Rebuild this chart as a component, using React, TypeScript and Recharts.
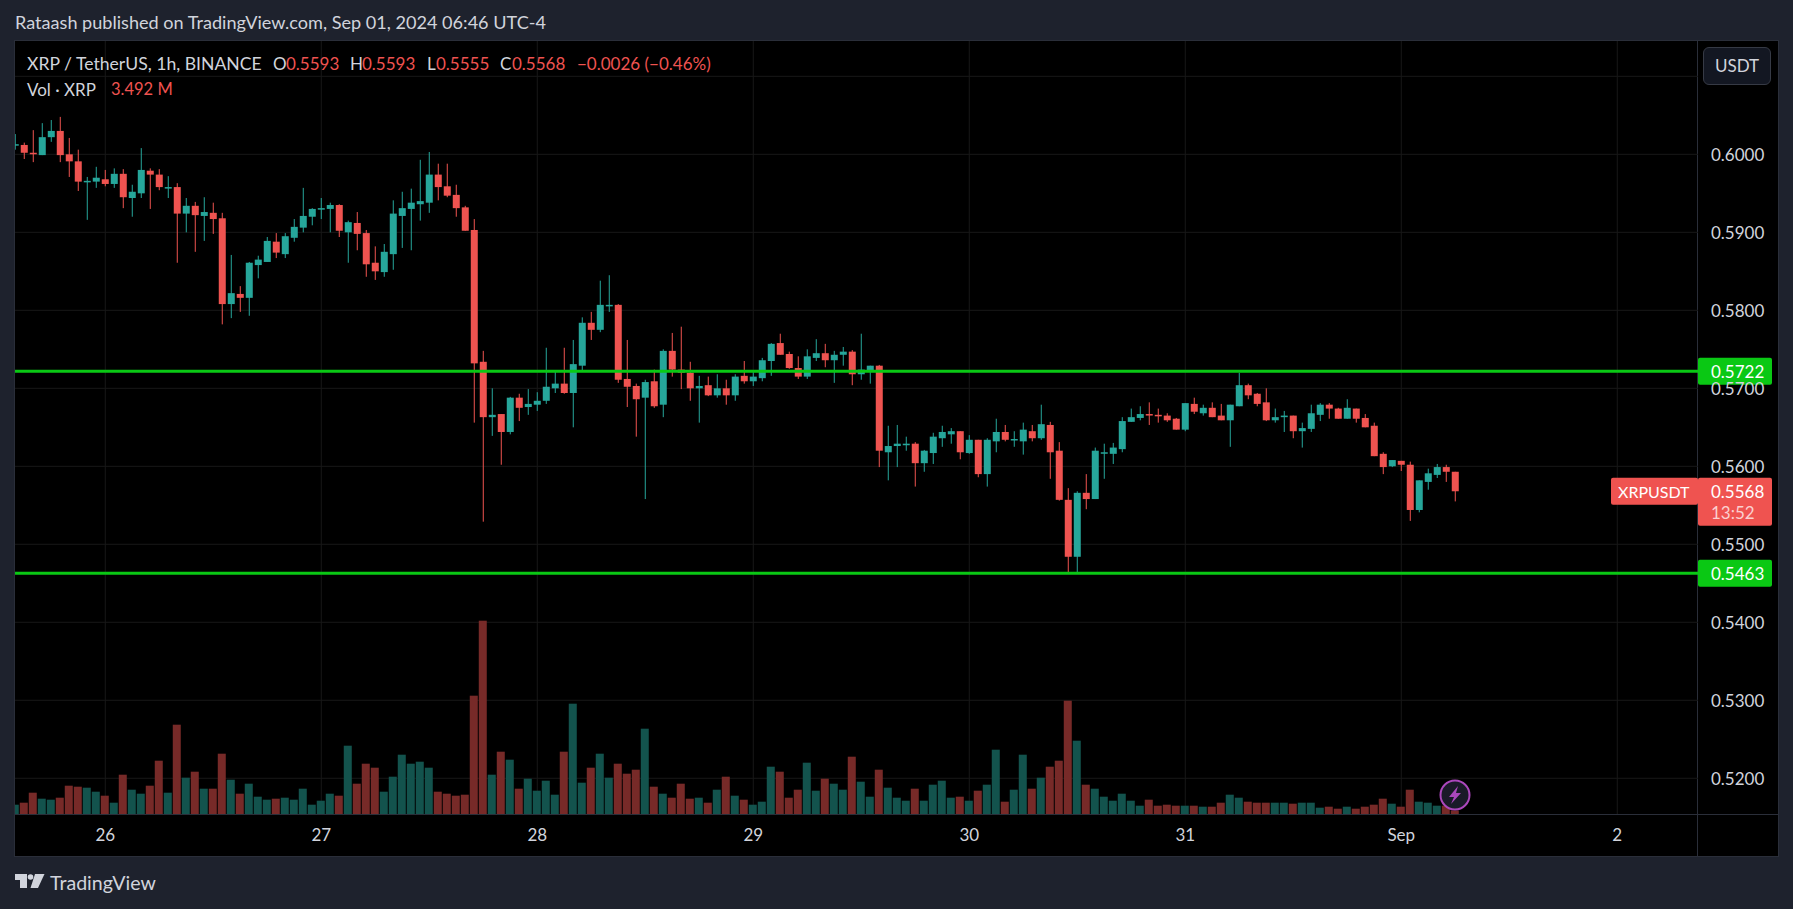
import { Bar, CartesianGrid, ComposedChart, ReferenceLine, XAxis, YAxis } from 'recharts';

const opens = [
  0.6012, 0.6012, 0.6002, 0.5999, 0.6022, 0.603, 0.6, 0.5991, 0.5965, 0.5965,
  0.5968, 0.5962, 0.5975, 0.5944, 0.595, 0.5979, 0.5974, 0.5957, 0.5958, 0.5924,
  0.5934, 0.5921, 0.5925, 0.5918, 0.5808, 0.5821, 0.5816, 0.5858, 0.5862, 0.5888,
  0.5872, 0.5893, 0.5906, 0.592, 0.593, 0.593, 0.5935, 0.59, 0.5912, 0.5899,
  0.5861, 0.5849, 0.5872, 0.5921, 0.593, 0.5936, 0.5938, 0.5974, 0.5959, 0.5948,
  0.5932, 0.5903, 0.5734, 0.5663, 0.5667, 0.5644, 0.5688, 0.5676, 0.5679, 0.5684,
  0.57, 0.5706, 0.5694, 0.5729, 0.5784, 0.5775, 0.5806, 0.5807, 0.5712, 0.5703,
  0.5688, 0.5709, 0.5679, 0.5748, 0.5724, 0.572, 0.57, 0.5704, 0.5691, 0.57,
  0.5691, 0.5716, 0.5709, 0.5713, 0.5735, 0.5758, 0.5744, 0.5726, 0.5715, 0.5739,
  0.5745, 0.5736, 0.5743, 0.5747, 0.5718, 0.5722, 0.5729, 0.5618, 0.5626, 0.5627,
  0.5629, 0.5604, 0.5617, 0.5636, 0.5641, 0.5645, 0.5617, 0.5634, 0.559, 0.5632,
  0.5644, 0.5634, 0.5632, 0.5645, 0.5636, 0.5653, 0.562, 0.5557, 0.5484, 0.5566,
  0.5558, 0.5617, 0.5616, 0.5622, 0.5657, 0.5662, 0.5667, 0.5666, 0.5665, 0.5661,
  0.5647, 0.568, 0.5668, 0.5675, 0.5665, 0.5659, 0.5677, 0.5704, 0.5693, 0.5682,
  0.5659, 0.5663, 0.5665, 0.5645, 0.5648, 0.5666, 0.5679, 0.5674, 0.5661, 0.5674,
  0.5662, 0.5652, 0.5616, 0.56, 0.5607, 0.5602, 0.5544, 0.558, 0.5589, 0.5599,
  0.5593,
];
const closes = [
  0.6013, 0.6002, 0.6001, 0.6022, 0.603, 0.5999, 0.5991, 0.5965, 0.5966, 0.597,
  0.5962, 0.5975, 0.5945, 0.5952, 0.598, 0.5974, 0.5958, 0.5958, 0.5924, 0.5934,
  0.5922, 0.5926, 0.5917, 0.5808, 0.5822, 0.5816, 0.5861, 0.5865, 0.5889, 0.5874,
  0.5895, 0.5907, 0.5921, 0.593, 0.5931, 0.5935, 0.5902, 0.5913, 0.5898, 0.5859,
  0.585, 0.5875, 0.5924, 0.5931, 0.5938, 0.594, 0.5974, 0.5958, 0.5947, 0.5931,
  0.5902, 0.5732, 0.5663, 0.5666, 0.5644, 0.5688, 0.5675, 0.568, 0.5684, 0.5702,
  0.5706, 0.5694, 0.5731, 0.5784, 0.5775, 0.5807, 0.5807, 0.5711, 0.5702, 0.5686,
  0.5708, 0.5677, 0.5748, 0.5724, 0.572, 0.57, 0.5703, 0.5691, 0.57, 0.5691,
  0.5715, 0.5709, 0.5715, 0.5736, 0.5757, 0.5743, 0.5726, 0.5715, 0.5741, 0.5745,
  0.5736, 0.5743, 0.5747, 0.5718, 0.5724, 0.5729, 0.562, 0.5626, 0.5629, 0.5629,
  0.5604, 0.562, 0.5638, 0.5644, 0.5645, 0.5618, 0.5634, 0.559, 0.5634, 0.5644,
  0.5634, 0.5635, 0.5647, 0.5636, 0.5654, 0.5618, 0.5557, 0.5484, 0.5566, 0.5558,
  0.562, 0.5618, 0.5624, 0.5658, 0.5663, 0.5667, 0.5666, 0.5665, 0.5659, 0.5647,
  0.5681, 0.567, 0.5675, 0.5663, 0.5659, 0.5679, 0.5704, 0.5691, 0.568, 0.5659,
  0.5663, 0.5665, 0.5645, 0.5649, 0.5668, 0.5679, 0.5674, 0.5661, 0.5675, 0.5661,
  0.565, 0.5613, 0.5599, 0.5608, 0.5602, 0.5544, 0.5582, 0.5591, 0.5599, 0.5593,
  0.5568,
];
const highs = [
  0.6026, 0.6015, 0.6031, 0.604, 0.6044, 0.6048, 0.6021, 0.6006, 0.5971, 0.5984,
  0.598, 0.5982, 0.5981, 0.5961, 0.6008, 0.5982, 0.5981, 0.5972, 0.5963, 0.5944,
  0.5939, 0.5945, 0.5938, 0.5925, 0.5871, 0.5831, 0.5862, 0.587, 0.5894, 0.5899,
  0.5899, 0.5917, 0.5957, 0.5931, 0.5944, 0.5938, 0.5936, 0.5915, 0.5926, 0.5903,
  0.5882, 0.5885, 0.5941, 0.5952, 0.5956, 0.5993, 0.6003, 0.5988, 0.5988, 0.5961,
  0.5934, 0.5917, 0.5748, 0.57, 0.5667, 0.5689, 0.5693, 0.5699, 0.5695, 0.5752,
  0.5721, 0.5752, 0.5762, 0.5791, 0.5798, 0.5838, 0.5845, 0.5808, 0.5762, 0.5706,
  0.5711, 0.5724, 0.575, 0.5771, 0.5779, 0.5734, 0.5716, 0.5715, 0.5718, 0.5711,
  0.5718, 0.5735, 0.5721, 0.5739, 0.5758, 0.577, 0.5747, 0.5741, 0.575, 0.5763,
  0.5757, 0.5748, 0.5753, 0.5749, 0.577, 0.5729, 0.573, 0.5652, 0.5653, 0.5638,
  0.5631, 0.5621, 0.5643, 0.5652, 0.5649, 0.5645, 0.564, 0.5634, 0.5636, 0.5661,
  0.5653, 0.5645, 0.5656, 0.5653, 0.5679, 0.5657, 0.5631, 0.5572, 0.5568, 0.559,
  0.5624, 0.5629, 0.563, 0.5663, 0.5674, 0.5677, 0.5682, 0.5674, 0.5668, 0.5662,
  0.5681, 0.5688, 0.5679, 0.5682, 0.568, 0.5679, 0.572, 0.5706, 0.5694, 0.57,
  0.5674, 0.5671, 0.5665, 0.5656, 0.5679, 0.5681, 0.5681, 0.5675, 0.5686, 0.5674,
  0.5667, 0.5656, 0.5618, 0.5608, 0.5607, 0.5606, 0.5582, 0.5597, 0.5603, 0.5602,
  0.5593,
];
const lows = [
  0.6006, 0.5994, 0.599, 0.5999, 0.6016, 0.599, 0.5971, 0.5953, 0.5916, 0.5957,
  0.5959, 0.5957, 0.5931, 0.592, 0.5944, 0.593, 0.5954, 0.5944, 0.5861, 0.59,
  0.5875, 0.5889, 0.5898, 0.5782, 0.579, 0.5798, 0.5793, 0.5841, 0.5862, 0.5867,
  0.5867, 0.5888, 0.59, 0.5909, 0.5917, 0.59, 0.5894, 0.5861, 0.5877, 0.5843,
  0.5839, 0.5843, 0.5852, 0.588, 0.5877, 0.5915, 0.5925, 0.5941, 0.5945, 0.592,
  0.5902, 0.5656, 0.5529, 0.5639, 0.5602, 0.5641, 0.5658, 0.5666, 0.5671, 0.568,
  0.5694, 0.5693, 0.565, 0.5723, 0.5762, 0.5772, 0.5798, 0.5707, 0.5676, 0.5638,
  0.5558, 0.5675, 0.5663, 0.5715, 0.5699, 0.5684, 0.5656, 0.569, 0.5688, 0.5679,
  0.5684, 0.5706, 0.5703, 0.5709, 0.5716, 0.5743, 0.5725, 0.5712, 0.5712, 0.5735,
  0.5727, 0.5707, 0.5729, 0.5704, 0.5711, 0.5706, 0.5599, 0.5582, 0.5599, 0.562,
  0.5574, 0.5593, 0.5603, 0.5625, 0.5629, 0.5609, 0.5616, 0.5586, 0.5574, 0.5618,
  0.5632, 0.5625, 0.5615, 0.5632, 0.5634, 0.5584, 0.5556, 0.5462, 0.5463, 0.5545,
  0.5558, 0.5584, 0.5603, 0.5618, 0.5657, 0.5659, 0.5653, 0.5656, 0.5657, 0.5647,
  0.5645, 0.5667, 0.5665, 0.5663, 0.5659, 0.5625, 0.5677, 0.5686, 0.5677, 0.5658,
  0.5656, 0.5644, 0.5636, 0.5624, 0.5644, 0.5658, 0.5661, 0.5661, 0.5661, 0.5656,
  0.565, 0.5613, 0.559, 0.5599, 0.5594, 0.553, 0.5541, 0.557, 0.5585, 0.558,
  0.5555,
];
// volume in millions of XRP
const volumes = [
  9.3, 11.3, 21.3, 15.3, 14.3, 16.3, 28.3, 27.3, 26.3, 22.3,
  18.3, 11.3, 39.3, 24.3, 20.3, 28.3, 53.3, 21.3, 89.3, 36.3,
  42.3, 25.3, 25.3, 60.3, 34.3, 20.3, 30.3, 17.3, 14.3, 15.3,
  16.3, 14.3, 25.3, 9.3, 13.3, 20.3, 18.3, 68.3, 30.3, 50.3,
  46.3, 22.3, 37.3, 59.3, 50.3, 52.3, 46.3, 22.3, 20.3, 18.3,
  19.3, 118.3, 193.3, 39.3, 62.3, 54.3, 25.3, 35.3, 23.3, 33.3,
  19.3, 62.3, 110.3, 31.3, 46.3, 60.3, 36.3, 50.3, 40.3, 44.3,
  85.3, 27.3, 20.3, 16.3, 30.3, 15.3, 16.3, 11.3, 24.3, 37.3,
  18.3, 14.3, 9.3, 12.3, 47.3, 42.3, 16.3, 24.3, 51.3, 23.3,
  35.3, 30.3, 24.3, 57.3, 32.3, 17.3, 44.3, 26.3, 16.3, 13.3,
  25.3, 13.3, 29.3, 33.3, 16.3, 17.3, 13.3, 23.3, 29.3, 64.3,
  12.3, 24.3, 59.3, 25.3, 36.3, 47.3, 53.3, 113.3, 73.3, 29.3,
  25.3, 17.3, 13.3, 20.3, 13.3, 8.3, 14.3, 8.3, 9.3, 8.3,
  8.3, 8.3, 7.3, 7.3, 11.3, 19.3, 16.3, 12.3, 11.3, 11.3,
  11.3, 11.3, 10.3, 11.3, 11.3, 6.3, 7.3, 5.3, 7.3, 5.3,
  7.3, 9.3, 15.3, 10.3, 7.3, 24.3, 12.3, 11.3, 8.3, 8.3,
  3.492,
];

const dayTicks = [10, 34, 58, 82, 106, 130, 154, 178];
const dayLabels = ['26', '27', '28', '29', '30', '31', 'Sep', '2'];
const priceTicks = [0.52, 0.53, 0.54, 0.55, 0.56, 0.57, 0.58, 0.59, 0.6];
const priceGrid = [...priceTicks, 0.61];
const levels = [0.5722, 0.5463];

const candles = opens.map((open, i) => ({
  i,
  open,
  close: closes[i],
  high: highs[i],
  low: lows[i],
  volume: volumes[i],
}));

const FONT = 'Lato, sans-serif';
const UP = '#26a69a';
const DOWN = '#ef5350';
const UP_VOL = '#13534d';
const DOWN_VOL = '#772a28';
const LEVEL = '#0ac814';
const FRAME = '#1e222d';
const BORDER = '#2a2e39';
const TEXT = '#d1d4dc';
const X_DOMAIN = [-0.03, 186.97];

const Candle = (props: any) => {
  const { x, y, width, height, payload } = props;
  const color = payload.close >= payload.open ? UP : DOWN;
  const perUnit = height / (payload.high - payload.low);
  const top = y + (payload.high - Math.max(payload.open, payload.close)) * perUnit;
  const bodyHeight = Math.abs(payload.open - payload.close) * perUnit;
  return (
    <g>
      <rect x={x + width / 2 - 0.5} y={y} width={1} height={height} fill={color} />
      <rect x={x} y={top} width={width} height={Math.max(bodyHeight, 1.5)} fill={color} />
    </g>
  );
};

const VolumeBar = (props: any) => {
  const { x, y, width, height, payload } = props;
  const color = payload.close >= payload.open ? UP_VOL : DOWN_VOL;
  return <rect x={x} y={y} width={width} height={height} fill={color} />;
};

const LevelBadge = ({ viewBox, price }: any) => {
  const right = viewBox.x + viewBox.width;
  return (
    <g>
      <rect x={right} y={viewBox.y - 13.5} width={74} height={27} rx={2} fill={LEVEL} />
      <text x={right + 13} y={viewBox.y + 7} fill="#fff" fontFamily={FONT} fontSize={17}>
        {price.toFixed(4)}
      </text>
    </g>
  );
};

const LastPriceBadge = ({ viewBox, price }: any) => {
  const right = viewBox.x + viewBox.width;
  const y = viewBox.y;
  return (
    <g>
      <rect x={right - 87} y={y - 13.5} width={87} height={27} rx={2} fill={DOWN} />
      <text x={right - 80} y={y + 7} fill="#fff" fontFamily={FONT} fontSize={16}>XRPUSDT</text>
      <rect x={right} y={y - 13.5} width={74} height={48} rx={2} fill={DOWN} />
      <text x={right + 13} y={y + 7} fill="#fff" fontFamily={FONT} fontSize={17}>{price.toFixed(4)}</text>
      <text x={right + 13} y={y + 28} fill="#fbd0cf" fontFamily={FONT} fontSize={17}>13:52</text>
    </g>
  );
};

const legend = [
  { x: 27, y: 53, size: 17.6, color: TEXT, text: 'XRP / TetherUS, 1h, BINANCE' },
  { x: 273, y: 53, size: 17, color: TEXT, text: 'O' },
  { x: 286, y: 53, size: 17, color: DOWN, text: '0.5593' },
  { x: 350, y: 53, size: 17, color: TEXT, text: 'H' },
  { x: 362, y: 53, size: 17, color: DOWN, text: '0.5593' },
  { x: 427, y: 53, size: 17, color: TEXT, text: 'L' },
  { x: 436, y: 53, size: 17, color: DOWN, text: '0.5555' },
  { x: 500, y: 53, size: 17, color: TEXT, text: 'C' },
  { x: 512, y: 53, size: 17, color: DOWN, text: '0.5568' },
  { x: 577, y: 53, size: 17, color: DOWN, text: '−0.0026 (−0.46%)' },
  { x: 27, y: 79, size: 17, color: TEXT, text: 'Vol · XRP' },
  { x: 111, y: 79, size: 16.5, color: DOWN, text: '3.492 M' },
];

const abs = (left: number, top: number, width: number, height: number, background: string) => ({
  position: 'absolute' as const,
  left,
  top,
  width,
  height,
  background,
});

export default function App() {
  return (
    <div style={{ ...abs(0, 0, 1793, 909, FRAME), overflow: 'hidden', fontFamily: FONT }}>
      <div style={{ position: 'absolute', left: 15, top: 11, fontSize: 18.1, color: TEXT, whiteSpace: 'nowrap' }}>
        Rataash published on TradingView.com, Sep 01, 2024 06:46 UTC-4
      </div>

      <div style={abs(14, 40, 1765, 817, BORDER)} />
      <div style={abs(15, 41, 1763, 815, '#000')} />
      <div style={abs(1697, 41, 1, 815, BORDER)} />
      <div style={abs(15, 814, 1763, 1, BORDER)} />

      <div style={{ position: 'absolute', left: 0, top: 0 }}>
        <ComposedChart
          width={1793}
          height={909}
          data={candles}
          margin={{ top: 41, right: 15, bottom: 53, left: 15 }}
        >
          <CartesianGrid
            xAxisId="price"
            yAxisId="price"
            stroke="#181818"
            horizontalValues={priceGrid}
            verticalValues={dayTicks}
          />
          <XAxis
            xAxisId="price"
            dataKey="i"
            type="number"
            domain={X_DOMAIN}
            allowDataOverflow
            ticks={dayTicks}
            interval={0}
            height={42}
            tickSize={0}
            tickMargin={15}
            axisLine={false}
            tickFormatter={(v: number) => dayLabels[dayTicks.indexOf(v)]}
            tick={{ fill: TEXT, fontSize: 17, fontFamily: FONT }}
          />
          <XAxis xAxisId="vol" dataKey="i" type="number" domain={X_DOMAIN} allowDataOverflow hide />
          <YAxis
            yAxisId="price"
            orientation="right"
            domain={[0.51542, 0.61453]}
            allowDataOverflow
            ticks={priceTicks}
            interval={0}
            width={80}
            tickSize={0}
            tickMargin={13}
            axisLine={false}
            tickFormatter={(v: number) => v.toFixed(4)}
            tick={{ fill: TEXT, fontSize: 17, fontFamily: FONT, textAnchor: 'start', dy: 0.5 }}
          />
          <YAxis yAxisId="vol" domain={[0, 773]} allowDataOverflow hide />
          <Bar
            xAxisId="vol"
            yAxisId="vol"
            dataKey="volume"
            barSize={8}
            shape={VolumeBar}
            isAnimationActive={false}
          />
          <Bar
            xAxisId="price"
            yAxisId="price"
            dataKey={(d: any) => [d.low, d.high]}
            barSize={7}
            shape={Candle}
            isAnimationActive={false}
          />
          {levels.map((price) => (
            <ReferenceLine
              key={price}
              xAxisId="price"
              yAxisId="price"
              y={price}
              stroke={LEVEL}
              strokeWidth={3}
              label={<LevelBadge price={price} />}
            />
          ))}
          <ReferenceLine
            xAxisId="price"
            yAxisId="price"
            y={closes[closes.length - 1]}
            strokeOpacity={0}
            label={<LastPriceBadge price={closes[closes.length - 1]} />}
          />
        </ComposedChart>
      </div>

      {legend.map((item) => (
        <div
          key={item.x + '-' + item.y}
          style={{ position: 'absolute', left: item.x, top: item.y, fontSize: item.size, color: item.color, whiteSpace: 'nowrap' }}
        >
          {item.text}
        </div>
      ))}

      <div
        style={{
          ...abs(1703, 47, 68, 38, '#131722'),
          border: '1px solid #363a45',
          borderRadius: 6,
          boxSizing: 'border-box',
          color: TEXT,
          fontSize: 17,
          lineHeight: '36px',
          textAlign: 'center',
        }}
      >
        USDT
      </div>

      <svg style={{ position: 'absolute', left: 1438, top: 778 }} width={34} height={34}>
        <circle cx={17} cy={17} r={14.5} fill="#1a1a28" stroke="#ab47bc" strokeWidth={2} />
        <path d="M20 8 L11 19 L16 19 L13 26 L23 15 L18 15 Z" fill="#ab47bc" />
      </svg>

      <svg style={{ position: 'absolute', left: 15, top: 874 }} width={32} height={16}>
        <path d="M0 0 H12 V14 H5 V6 H0 Z" fill={TEXT} />
        <circle cx={15.5} cy={3} r={2.8} fill={TEXT} />
        <path d="M20 0 H29.5 L23 14 H15.5 Z" fill={TEXT} />
      </svg>
      <div style={{ position: 'absolute', left: 50, top: 871, fontSize: 19.6, color: TEXT }}>TradingView</div>
    </div>
  );
}
